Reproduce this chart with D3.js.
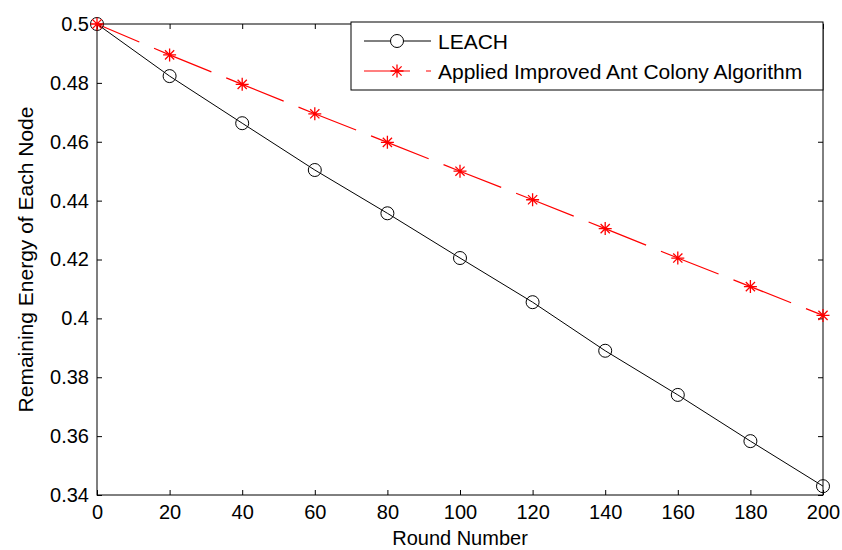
<!DOCTYPE html>
<html>
<head>
<meta charset="utf-8">
<script src="https://cdn.jsdelivr.net/npm/d3@7"></script>
<style>
  body { margin: 0; background: #fff; }
  svg { display: block; }
  text { font-family: "Liberation Sans", Arial, Helvetica, sans-serif; fill: #000; }
</style>
</head>
<body>
<svg width="842" height="550"></svg>
<script>
const rounds = [0, 20, 40, 60, 80, 100, 120, 140, 160, 180, 200];
const leach = [0.5, 0.4823, 0.4663, 0.4504, 0.4357, 0.4205, 0.4055, 0.389, 0.374, 0.3583, 0.343];
const antColony = [0.5, 0.4895, 0.4795, 0.4695, 0.4598, 0.45, 0.4403, 0.4305, 0.4205, 0.4108, 0.401];
const xTicks = [0, 20, 40, 60, 80, 100, 120, 140, 160, 180, 200];
const yTicks = [0.34, 0.36, 0.38, 0.4, 0.42, 0.44, 0.46, 0.48, 0.5];
const seriesNames = ["LEACH", "Applied Improved Ant Colony Algorithm"];

const svg = d3.select("svg"),
      width = +svg.attr("width"),
      height = +svg.attr("height");

const margin = {top: 24, right: 19, bottom: 55, left: 97};

const x = d3.scaleLinear().domain([0, 200]).range([margin.left, width - margin.right]);
const y = d3.scaleLinear().domain([0.34, 0.5]).range([height - margin.bottom, margin.top]);

const fmt = d => String(+d.toFixed(2));
const tickLen = 5;

// box
svg.append("rect")
   .attr("x", x(0)).attr("y", y(0.5))
   .attr("width", x(200) - x(0)).attr("height", y(0.34) - y(0.5))
   .attr("fill", "none").attr("stroke", "#000").attr("stroke-width", 1);

// axes with inward ticks, mirrored on top/right
svg.append("g")
   .attr("transform", `translate(0,${y(0.34)})`)
   .call(d3.axisBottom(x).tickValues(xTicks).tickSize(-tickLen).tickPadding(10).tickFormat(fmt))
   .call(g => g.select(".domain").remove())
   .call(g => g.selectAll("text").attr("font-size", 20).attr("font-family", null));

svg.append("g")
   .attr("transform", `translate(0,${y(0.5)})`)
   .call(d3.axisTop(x).tickValues(xTicks).tickSize(-tickLen).tickFormat(""))
   .call(g => g.select(".domain").remove());

svg.append("g")
   .attr("transform", `translate(${x(0)},0)`)
   .call(d3.axisLeft(y).tickValues(yTicks).tickSize(-tickLen).tickPadding(8).tickFormat(fmt))
   .call(g => g.select(".domain").remove())
   .call(g => g.selectAll("text").attr("font-size", 20).attr("font-family", null));

svg.append("g")
   .attr("transform", `translate(${x(200)},0)`)
   .call(d3.axisRight(y).tickValues(yTicks).tickSize(-tickLen).tickFormat(""))
   .call(g => g.select(".domain").remove());

// axis labels
svg.append("text")
   .attr("x", (x(0) + x(200)) / 2).attr("y", height - 5)
   .attr("text-anchor", "middle").attr("font-size", 20)
   .text("Round Number");

svg.append("text")
   .attr("transform", `translate(33,${(y(0.34) + y(0.5)) / 2}) rotate(-90)`)
   .attr("text-anchor", "middle").attr("font-size", 21)
   .text("Remaining Energy of Each Node");

// markers
const starPath = "M-6.5,0H6.5M0,-6.5V6.5M-4.6,-4.6L4.6,4.6M-4.6,4.6L4.6,-4.6";

const line = d3.line().x((d, i) => x(rounds[i])).y(d => y(d));

svg.append("path")
   .datum(leach)
   .attr("d", line)
   .attr("fill", "none").attr("stroke", "#000").attr("stroke-width", 1);

svg.append("path")
   .datum(antColony)
   .attr("d", line)
   .attr("fill", "none").attr("stroke", "#ff0000").attr("stroke-width", 1.2)
   .attr("stroke-dasharray", "62,16").attr("stroke-dashoffset", 16);

svg.append("g")
   .selectAll("circle")
   .data(leach)
   .join("circle")
     .attr("cx", (d, i) => x(rounds[i]))
     .attr("cy", d => y(d))
     .attr("r", 6.5)
     .attr("fill", "none").attr("stroke", "#000").attr("stroke-width", 1);

svg.append("g")
   .selectAll("path")
   .data(antColony)
   .join("path")
     .attr("transform", (d, i) => `translate(${x(rounds[i])},${y(d)})`)
     .attr("d", starPath)
     .attr("fill", "none").attr("stroke", "#ff0000").attr("stroke-width", 1.3);

// legend
const legend = svg.append("g");
legend.append("rect")
   .attr("x", 351).attr("y", 22).attr("width", 472).attr("height", 68)
   .attr("fill", "#fff").attr("stroke", "#000").attr("stroke-width", 1);

const rows = [
  {name: seriesNames[0], color: "#000", dash: null, marker: "circle"},
  {name: seriesNames[1], color: "#ff0000", dash: "46,16", marker: "star"}
];

rows.forEach((r, i) => {
  const ly = 41 + i * 30;
  legend.append("line")
     .attr("x1", 364).attr("x2", 431).attr("y1", ly).attr("y2", ly)
     .attr("stroke", r.color).attr("stroke-width", i ? 1.2 : 1)
     .attr("stroke-dasharray", r.dash);
  if (r.marker === "circle") {
    legend.append("circle").attr("cx", 397).attr("cy", ly).attr("r", 6.5)
       .attr("fill", "#fff").attr("stroke", "#000");
  } else {
    legend.append("path").attr("transform", `translate(397,${ly})`).attr("d", starPath)
       .attr("fill", "none").attr("stroke", r.color).attr("stroke-width", 1.3);
  }
  legend.append("text")
     .attr("x", 438).attr("y", ly + 7.5)
     .attr("font-size", 21)
     .text(r.name);
});
</script>
</body>
</html>
